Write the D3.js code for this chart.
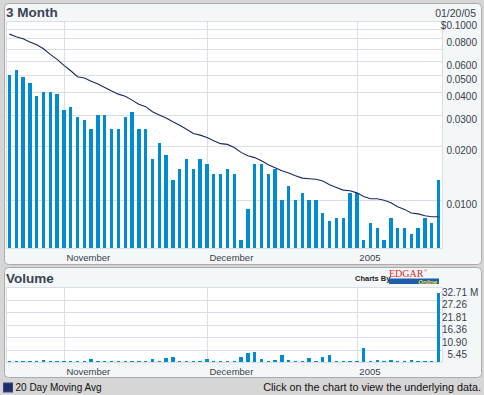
<!DOCTYPE html>
<html>
<head>
<meta charset="utf-8">
<script src="https://cdn.jsdelivr.net/npm/d3@7"></script>
<style>
	html, body { margin: 0; padding: 0; background: #d6d6d6; }
	svg { display: block; font-family: "Liberation Sans", Arial, sans-serif; }
</style>
</head>
<body>
<div id="chart"></div>
<script>
"use strict";

// trading days shown on the chart
var dates = [
	"2004-10-20", "2004-10-21", "2004-10-22", "2004-10-25", "2004-10-26", "2004-10-27", "2004-10-28", "2004-10-29",
	"2004-11-01", "2004-11-02", "2004-11-03", "2004-11-04", "2004-11-05", "2004-11-08", "2004-11-09", "2004-11-10",
	"2004-11-11", "2004-11-12", "2004-11-15", "2004-11-16", "2004-11-17", "2004-11-18", "2004-11-19", "2004-11-22",
	"2004-11-23", "2004-11-24", "2004-11-26", "2004-11-29", "2004-11-30",
	"2004-12-01", "2004-12-02", "2004-12-03", "2004-12-06", "2004-12-07", "2004-12-08", "2004-12-09", "2004-12-10",
	"2004-12-13", "2004-12-14", "2004-12-15", "2004-12-16", "2004-12-17", "2004-12-20", "2004-12-21", "2004-12-22",
	"2004-12-23", "2004-12-27", "2004-12-28", "2004-12-29", "2004-12-30", "2004-12-31",
	"2005-01-03", "2005-01-04", "2005-01-05", "2005-01-06", "2005-01-07", "2005-01-10", "2005-01-11", "2005-01-12",
	"2005-01-13", "2005-01-14", "2005-01-18", "2005-01-19", "2005-01-20"
];

// closing price
var prices = [
	0.050, 0.053, 0.049, 0.045, 0.038, 0.040, 0.040, 0.039, 0.032, 0.033,
	0.029, 0.028, 0.025, 0.030, 0.030, 0.025, 0.025, 0.029, 0.031, 0.025,
	0.025, 0.017, 0.021, 0.018, 0.013, 0.015, 0.017, 0.015, 0.017, 0.016,
	0.014, 0.014, 0.015, 0.014, 0.006, 0.009, 0.016, 0.016, 0.014, 0.015,
	0.010, 0.012, 0.010, 0.011, 0.010, 0.010, 0.0085, 0.0077, 0.008, 0.008,
	0.011, 0.011, 0.006, 0.0075, 0.007, 0.006, 0.008, 0.007, 0.007, 0.0065,
	0.007, 0.008, 0.0075, 0.013
];

// 20 day moving average
var movingAvg = [
	0.0845, 0.0817, 0.0796, 0.0763, 0.0737, 0.0700, 0.0651, 0.0611, 0.0566, 0.0528,
	0.0489, 0.0481, 0.0462, 0.0445, 0.0426, 0.0407, 0.0391, 0.0380, 0.0362, 0.0343,
	0.0333, 0.0312, 0.0299, 0.0288, 0.0274, 0.0262, 0.0249, 0.0236, 0.0231, 0.0224,
	0.0215, 0.0207, 0.0205, 0.0197, 0.0185, 0.0177, 0.0173, 0.0166, 0.0158, 0.0152,
	0.0146, 0.0142, 0.0137, 0.0133, 0.0132, 0.0131, 0.0128, 0.0122, 0.0118, 0.0114,
	0.0113, 0.0110, 0.0105, 0.0102, 0.0102, 0.0100, 0.0097, 0.0092, 0.0089, 0.0085,
	0.0084, 0.0082, 0.0081, 0.0081
];

// volume, millions of shares
var volumes = [
	0.4, 0.4, 0.4, 0.4, 0.4, 0.9, 0.4, 0.4, 0.4, 0.4,
	0.4, 0.4, 1.3, 0.4, 0.4, 0.4, 0.4, 0.4, 0.4, 0.4,
	0.4, 1.3, 0.4, 1.6, 2.2, 0.4, 0.4, 0.4, 0.4, 1.2,
	0.4, 0.4, 0.4, 0.4, 2.2, 4.0, 4.5, 1.3, 0.5, 0.9,
	3.2, 0.8, 0.4, 0.4, 1.7, 0.5, 2.4, 3.2, 0.4, 0.4,
	0.4, 0.4, 6.3, 0.6, 0.9, 0.5, 0.9, 0.4, 0.4, 0.9,
	0.4, 0.4, 0.4, 30.0
];

var monthTickDates = ["2004-11-01", "2004-12-01", "2005-01-03"];
var monthTickLabels = ["November", "December", "2005"];

var priceGrid = [0.01, 0.02, 0.03, 0.04, 0.05, 0.06, 0.07, 0.08, 0.09];
var priceTicks = [0.01, 0.02, 0.03, 0.04, 0.05, 0.06, 0.08, 0.1];
var volumeTicks = [5.45, 10.90, 16.36, 21.81, 27.26, 32.71];

var width = 484, height = 395;

var svg = d3.select("#chart")
	.append("svg")
	.attr("width", width)
	.attr("height", height);

svg.append("rect")
	.attr("width", width)
	.attr("height", height)
	.style("fill", "#d6d6d6");

// panels
svg.append("rect")
	.attr("x", 4.5).attr("y", 3.5)
	.attr("width", 477).attr("height", 261)
	.attr("rx", 4)
	.style("fill", "#f3f7f7")
	.style("stroke", "#a9abad");

svg.append("rect")
	.attr("x", 4.5).attr("y", 267.5)
	.attr("width", 477).attr("height", 110)
	.attr("rx", 4)
	.style("fill", "#f3f7f7")
	.style("stroke", "#a9abad");

// scales
var x = d3.scaleBand()
	.domain(dates)
	.range([6, 442])
	.paddingInner(0.5)
	.paddingOuter(0.25);

var yPrice = d3.scaleLog()
	.domain([0.00542, 0.1])
	.range([248, 21]);

var yVol = d3.scaleLinear()
	.domain([0, 32.71])
	.range([362, 287.3]);

var gridColor = "#d9dee7";
var barColor = "#008bd2";
var fmtPrice = d3.format(".4f");

function xc(d) {
	return x(d) + x.bandwidth() / 2;
}

// ---- price chart ----
var priceG = svg.append("g");

priceG.append("rect")
	.attr("x", 6).attr("y", 21)
	.attr("width", 436).attr("height", 227)
	.style("fill", "white")
	.style("stroke", gridColor)
	.style("shape-rendering", "crispEdges");

priceG.selectAll(".hgrid").data(priceGrid)
	.enter().append("line")
	.attr("class", "hgrid")
	.attr("x1", 6).attr("x2", 442)
	.attr("y1", d => Math.round(yPrice(d)) + 0.5)
	.attr("y2", d => Math.round(yPrice(d)) + 0.5)
	.style("stroke", gridColor);

priceG.selectAll(".vgrid").data(monthTickDates)
	.enter().append("line")
	.attr("class", "vgrid")
	.attr("x1", d => Math.round(xc(d)) + 0.5)
	.attr("x2", d => Math.round(xc(d)) + 0.5)
	.attr("y1", 21).attr("y2", 248)
	.style("stroke", gridColor);

priceG.selectAll(".priceBar").data(prices)
	.enter().append("rect")
	.attr("class", "priceBar")
	.attr("x", (d, i) => x(dates[i]))
	.attr("width", x.bandwidth())
	.attr("y", d => yPrice(d))
	.attr("height", d => 248 - yPrice(d))
	.style("fill", barColor)
	.style("shape-rendering", "crispEdges");

var line = d3.line()
	.x((d, i) => xc(dates[i]))
	.y(d => yPrice(d));

priceG.append("path")
	.datum(movingAvg)
	.attr("d", line)
	.style("fill", "none")
	.style("stroke", "#1b275f")
	.style("stroke-width", 1.1);

priceG.selectAll(".priceLabel").data(priceTicks)
	.enter().append("text")
	.attr("class", "priceLabel")
	.attr("x", 477)
	.attr("y", d => yPrice(d) + 8)
	.style("text-anchor", "end")
	.style("font-size", "10px")
	.style("fill", "#3a3f4c")
	.text(d => (d === 0.1 ? "$" : "") + fmtPrice(d));

priceG.append("text")
	.attr("x", 6).attr("y", 16.7)
	.style("font-size", "13.5px")
	.style("font-weight", "bold")
	.style("fill", "#3c4252")
	.text("3 Month");

priceG.append("text")
	.attr("x", 476).attr("y", 17.3)
	.style("text-anchor", "end")
	.style("font-size", "10.5px")
	.style("fill", "#3a3f4c")
	.text("01/20/05");

priceG.selectAll(".monthLabel").data(monthTickDates)
	.enter().append("text")
	.attr("class", "monthLabel")
	.attr("x", d => xc(d) + 2.5)
	.attr("y", 260.5)
	.style("font-size", "9.5px")
	.style("fill", "#3a3f4c")
	.text((d, i) => monthTickLabels[i]);

// ---- volume chart ----
var volumeG = svg.append("g");

volumeG.append("rect")
	.attr("x", 6).attr("y", 287)
	.attr("width", 436).attr("height", 75)
	.style("fill", "white")
	.style("stroke", gridColor)
	.style("shape-rendering", "crispEdges");

volumeG.selectAll(".hgrid").data(volumeTicks)
	.enter().append("line")
	.attr("class", "hgrid")
	.attr("x1", 6).attr("x2", 442)
	.attr("y1", d => Math.round(yVol(d)) + 0.5)
	.attr("y2", d => Math.round(yVol(d)) + 0.5)
	.style("stroke", gridColor);

volumeG.selectAll(".vgrid").data(monthTickDates)
	.enter().append("line")
	.attr("class", "vgrid")
	.attr("x1", d => Math.round(xc(d)) + 0.5)
	.attr("x2", d => Math.round(xc(d)) + 0.5)
	.attr("y1", 287).attr("y2", 362)
	.style("stroke", gridColor);

volumeG.selectAll(".volBar").data(volumes)
	.enter().append("rect")
	.attr("class", "volBar")
	.attr("x", (d, i) => x(dates[i]))
	.attr("width", x.bandwidth())
	.attr("y", d => yVol(d))
	.attr("height", d => 362 - yVol(d))
	.style("fill", barColor)
	.style("shape-rendering", "crispEdges");

volumeG.selectAll(".volLabel").data(volumeTicks)
	.enter().append("text")
	.attr("class", "volLabel")
	.attr("x", 467)
	.attr("y", d => yVol(d) + 8.5)
	.style("text-anchor", "end")
	.style("font-size", "10px")
	.style("fill", "#3a3f4c")
	.text(d => d3.format(".2f")(d));

volumeG.append("text")
	.attr("x", 470)
	.attr("y", yVol(32.71) + 8.5)
	.style("font-size", "10px")
	.style("fill", "#3a3f4c")
	.text("M");

volumeG.append("text")
	.attr("x", 6).attr("y", 283.3)
	.style("font-size", "13.5px")
	.style("font-weight", "bold")
	.style("fill", "#3c4252")
	.text("Volume");

volumeG.selectAll(".monthLabel").data(monthTickDates)
	.enter().append("text")
	.attr("class", "monthLabel")
	.attr("x", d => xc(d) + 2.5)
	.attr("y", 374.8)
	.style("font-size", "9.5px")
	.style("fill", "#3a3f4c")
	.text((d, i) => monthTickLabels[i]);

// "Charts By EDGAR Online" mark
var logo = svg.append("g");

logo.append("text")
	.attr("x", 355).attr("y", 280.5)
	.style("font-size", "7.5px")
	.style("font-weight", "bold")
	.style("fill", "#222")
	.text("Charts By");

logo.append("text")
	.attr("x", 389).attr("y", 277)
	.style("font-family", "'Liberation Serif', serif")
	.style("font-size", "10px")
	.style("fill", "#d8272d")
	.text("EDGAR");

logo.append("text")
	.attr("x", 424).attr("y", 272)
	.style("font-size", "4px")
	.style("fill", "#d8272d")
	.text("®");

logo.append("rect")
	.attr("x", 389).attr("y", 278.5)
	.attr("width", 50).attr("height", 5.5)
	.style("fill", "#1f5ea6");

logo.append("text")
	.attr("x", 437).attr("y", 283.6)
	.style("text-anchor", "end")
	.style("font-size", "6px")
	.style("font-weight", "bold")
	.style("font-style", "italic")
	.style("fill", "#f0e040")
	.text("Online");

// legend and footer
svg.append("rect")
	.attr("x", 3.5).attr("y", 383)
	.attr("width", 9).attr("height", 9)
	.style("fill", "#1f2d6b")
	.style("stroke", "#394680");

svg.append("text")
	.attr("x", 15.5).attr("y", 390.5)
	.style("font-size", "10px")
	.style("fill", "#111")
	.text("20 Day Moving Avg");

svg.append("text")
	.attr("x", 481).attr("y", 390.7)
	.style("text-anchor", "end")
	.style("font-size", "10.8px")
	.style("fill", "#111")
	.text("Click on the chart to view the underlying data.");
</script>
</body>
</html>
